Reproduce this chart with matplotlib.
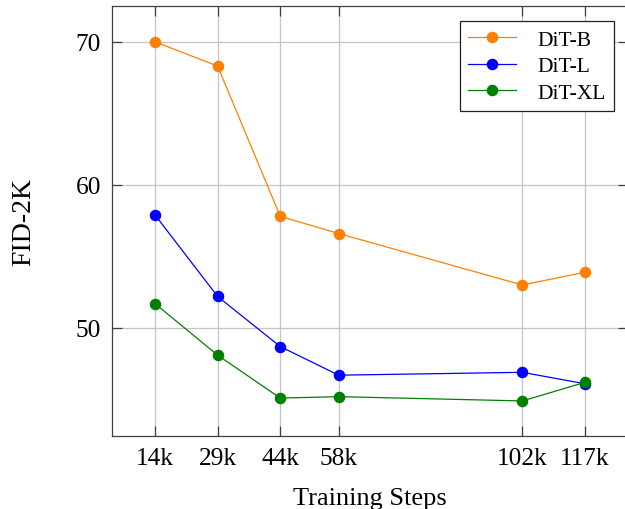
import matplotlib.pyplot as plt

steps = [14, 29, 44, 58, 102, 117]
tick_labels = ['14k', '29k', '44k', '58k', '102k', '117k']
dit_b = [70.0, 68.3, 57.8, 56.6, 53.0, 53.9]
dit_l = [57.9, 52.2, 48.7, 46.7, 46.9, 46.1]
dit_xl = [51.7, 48.1, 45.1, 45.2, 44.9, 46.2]

plt.rcParams['font.family'] = ['Liberation Serif', 'DejaVu Serif']

fig = plt.figure(figsize=(6.25, 5.10), dpi=100)
ax = fig.add_axes([112 / 625, 73 / 510, 516 / 625, 430 / 510])

ax.plot(steps, dit_b, color=(1, 0.5, 0), lw=0.9, marker='o', ms=7.3, label='DiT-B')
ax.plot(steps, dit_l, color=(0, 0, 1), lw=0.9, marker='o', ms=7.3, label='DiT-L')
ax.plot(steps, dit_xl, color=(0, 0.5, 0), lw=0.9, marker='o', ms=7.3, label='DiT-XL')

ax.set_xlim(3.7, 127.3)
ax.set_ylim(42.45, 72.5)
ax.set_xticks(steps)
ax.set_xticklabels(tick_labels)
ax.set_yticks([50, 60, 70])
ax.grid(True, color='#c4c4c4', lw=0.9)
ax.set_axisbelow(True)
ax.tick_params(direction='in', length=7, width=0.9, color='#404040',
               labelsize=18.3, top=True, right=True, pad=8)
for s in ax.spines.values():
    s.set_color('#404040')
    s.set_linewidth(0.9)

ax.set_xlabel('Training Steps', fontsize=19, labelpad=13)
ax.set_ylabel('FID-2K', fontsize=20, labelpad=28)

leg = ax.legend(loc='upper right', bbox_to_anchor=(0.973, 0.965), fontsize=15.5,
                frameon=True, fancybox=False, edgecolor='#202020', framealpha=1,
                handlelength=2.2, borderaxespad=0, borderpad=0.4,
                labelspacing=0.3, handletextpad=1.0)
leg.get_frame().set_linewidth(0.9)

fig.savefig('out.png', dpi=100)
